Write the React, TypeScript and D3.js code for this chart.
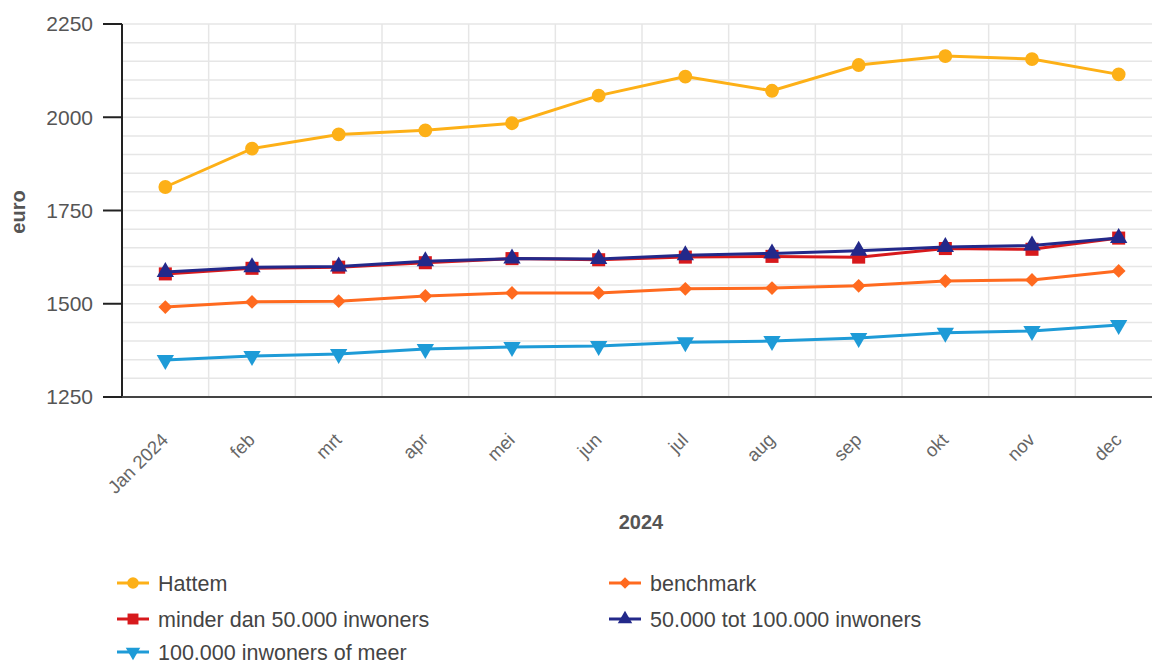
import React from "react";
import * as d3 from "d3";

const WIDTH = 1152;
const HEIGHT = 662;
const PLOT = { left: 122, right: 1162, top: 24, bottom: 397 };

const months = ["Jan 2024", "feb", "mrt", "apr", "mei", "jun", "jul", "aug", "sep", "okt", "nov", "dec"];
const yTicks = [1250, 1500, 1750, 2000, 2250];

const hattem = [1813, 1916, 1954, 1965, 1984, 2058, 2109, 2071, 2140, 2164, 2156, 2115];
const benchmark = [1491, 1505, 1507, 1521, 1529, 1529, 1540, 1542, 1548, 1561, 1564, 1588];
const minder50k = [1580, 1595, 1598, 1610, 1621, 1618, 1625, 1627, 1625, 1648, 1646, 1676];
const tot100k = [1585, 1598, 1600, 1614, 1621, 1620, 1630, 1635, 1642, 1652, 1656, 1676];
const meer100k = [1349, 1360, 1365, 1379, 1384, 1387, 1397, 1400, 1408, 1422, 1427, 1443];

const series = [
  { name: "Hattem", values: hattem, color: "#fdb017", symbol: d3.symbolCircle, size: 150, rotate: 0, legend: [117, 583] },
  { name: "benchmark", values: benchmark, color: "#ff6a1f", symbol: d3.symbolSquare, size: 95, rotate: 45, legend: [609, 583] },
  { name: "minder dan 50.000 inwoners", values: minder50k, color: "#d7191c", symbol: d3.symbolSquare, size: 170, rotate: 0, legend: [117, 619] },
  { name: "50.000 tot 100.000 inwoners", values: tot100k, color: "#23298a", symbol: d3.symbolTriangle, size: 130, rotate: 0, legend: [609, 619] },
  { name: "100.000 inwoners of meer", values: meer100k, color: "#1e9bd7", symbol: d3.symbolTriangle, size: 130, rotate: 180, legend: [117, 652] },
];

export default function App() {
  const x = d3.scaleBand<string>().domain(months).range([PLOT.left, PLOT.right]);
  const cx = (m: string) => (x(m) ?? 0) + x.bandwidth() / 2;
  const y = d3.scaleLinear().domain([1250, 2250]).range([PLOT.bottom, PLOT.top]);
  const minorTicks = d3.range(1250, 2251, 50);

  const line = d3
    .line<number>()
    .x((_, i) => cx(months[i]))
    .y((d) => y(d));

  const font = "'Liberation Sans', Arial, sans-serif";

  return (
    <svg
      width={WIDTH}
      height={HEIGHT}
      style={{ position: "absolute", left: 0, top: 0, background: "#fff" }}
      fontFamily={font}
    >
      {/* grid */}
      {minorTicks.map((t) => (
        <line key={"h" + t} x1={PLOT.left} x2={PLOT.right} y1={y(t)} y2={y(t)} stroke="#e6e6e6" strokeWidth={1.5} />
      ))}
      {months.slice(1).map((m) => (
        <line key={"v" + m} x1={x(m)} x2={x(m)} y1={PLOT.top} y2={PLOT.bottom} stroke="#e6e6e6" strokeWidth={1.5} />
      ))}

      {/* axes */}
      <line x1={PLOT.left} x2={PLOT.left} y1={PLOT.top} y2={PLOT.bottom} stroke="#222" strokeWidth={2} />
      <line x1={PLOT.left - 1} x2={PLOT.right} y1={PLOT.bottom} y2={PLOT.bottom} stroke="#444" strokeWidth={2} />
      {yTicks.map((t) => (
        <g key={"yt" + t}>
          <line x1={PLOT.left - 19} x2={PLOT.left} y1={y(t)} y2={y(t)} stroke="#222" strokeWidth={2} />
          <text x={PLOT.left - 29} y={y(t)} dy="0.35em" textAnchor="end" fontSize={21} fill="#555">
            {t}
          </text>
        </g>
      ))}
      {months.map((m) => (
        <text
          key={"xt" + m}
          transform={`translate(${cx(m) + 4},${PLOT.bottom + 44}) rotate(-45)`}
          textAnchor="end"
          fontSize={18.5}
          fill="#666"
        >
          {m}
        </text>
      ))}
      <text x={641} y={529} textAnchor="middle" fontSize={20} fontWeight="bold" fill="#555">
        2024
      </text>
      <text transform={`translate(25,212) rotate(-90)`} textAnchor="middle" fontSize={20} fontWeight="bold" fill="#555">
        euro
      </text>

      {/* series */}
      {series.map((s) => (
        <g key={s.name}>
          <path d={line(s.values) ?? ""} fill="none" stroke={s.color} strokeWidth={3} />
          {s.values.map((v, i) => (
            <path
              key={i}
              d={d3.symbol().type(s.symbol).size(s.size)() ?? ""}
              transform={`translate(${cx(months[i])},${y(v)}) rotate(${s.rotate})`}
              fill={s.color}
            />
          ))}
        </g>
      ))}

      {/* legend */}
      {series.map((s) => (
        <g key={"lg" + s.name} transform={`translate(${s.legend[0]},${s.legend[1]})`}>
          <line x1={0} x2={32} y1={0} y2={0} stroke={s.color} strokeWidth={3} />
          <path
            d={d3.symbol().type(s.symbol).size(s.size * 0.7)() ?? ""}
            transform={`translate(16,0) rotate(${s.rotate})`}
            fill={s.color}
          />
          <text x={41} y={0} dy="0.35em" fontSize={21.5} fill="#444">
            {s.name}
          </text>
        </g>
      ))}
    </svg>
  );
}
